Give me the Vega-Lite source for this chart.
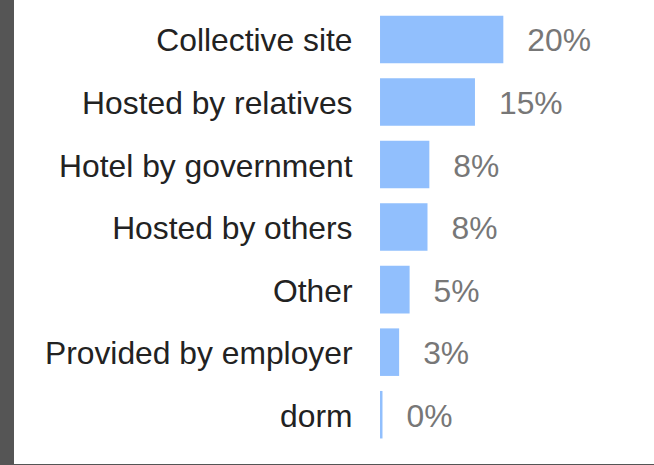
{
  "$schema": "https://vega.github.io/schema/vega-lite/v6.json",
  "width": 640,
  "height": 464,
  "autosize": {"type": "none"},
  "padding": {"left": 14, "top": 0, "right": 0, "bottom": 1},
  "background": "#555555",
  "config": {
    "view": {"fill": "white", "stroke": null},
    "font": "Liberation Sans"
  },
  "data": {
    "values": [
      {"category": "Collective site", "share": 0.200},
      {"category": "Hosted by relatives", "share": 0.154},
      {"category": "Hotel by government", "share": 0.080},
      {"category": "Hosted by others", "share": 0.077},
      {"category": "Other", "share": 0.048},
      {"category": "Provided by employer", "share": 0.031},
      {"category": "dorm", "share": 0.004}
    ]
  },
  "encoding": {
    "y": {
      "field": "category",
      "type": "nominal",
      "sort": null,
      "scale": {"paddingInner": 0.24, "paddingOuter": 0.329, "align": 0.38},
      "axis": {
        "title": null,
        "domain": false,
        "ticks": false,
        "grid": false,
        "offset": -366,
        "labelPadding": 28,
        "labelOffset": 2,
        "labelFontSize": 31.8,
        "labelColor": "#222222",
        "labelFont": "Liberation Sans",
        "labelLimit": 0
      }
    },
    "x": {
      "field": "share",
      "type": "quantitative",
      "scale": {"domain": [-0.5937, 0.4444], "nice": false, "zero": false},
      "axis": null
    }
  },
  "layer": [
    {
      "mark": {"type": "bar", "color": "#91bffd", "x": {"expr": "scale('x', 0)"}}
    },
    {
      "mark": {
        "type": "text",
        "align": "left",
        "baseline": "middle",
        "dx": 24,
        "dy": 2,
        "fontSize": 31.8,
        "color": "#777777",
        "font": "Liberation Sans"
      },
      "encoding": {
        "text": {"field": "share", "type": "quantitative", "format": ".0%"}
      }
    }
  ]
}
